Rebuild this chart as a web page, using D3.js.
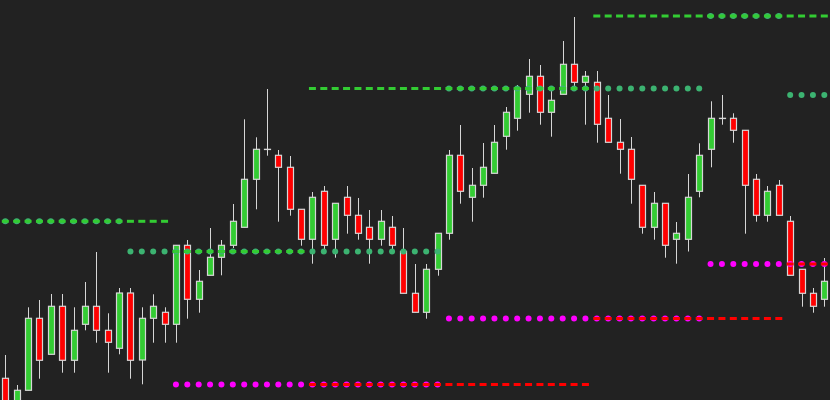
<!DOCTYPE html>
<html>
<head>
<meta charset="utf-8">
<script src="https://cdn.jsdelivr.net/npm/d3@7"></script>
<style>
  html, body { margin: 0; padding: 0; background: #222222; }
  svg { display: block; }
</style>
</head>
<body>
<svg id="chart" width="830" height="400"></svg>
<script>
// ---- DATA ----
const candleIndex = d3.range(1, 74);
const opens  = [121.7, 90, 109.7, 181.7, 145.7, 193.7, 139.7, 175.7, 193.7, 169.7, 151.7, 207, 140, 181.7, 187.7, 175.7, 254.7, 200.7, 224.7, 242.7, 254.7, 272.7, 320.7, 350.7, 344.7, 332.7, 290.7, 260.7, 308.7, 260.7, 302.7, 284.7, 272.7, 260.7, 272.7, 248.7, 206.7, 187.7, 230.7, 266.7, 344.7, 302.7, 314.7, 326.7, 363.7, 381.7, 405.7, 423.7, 387.7, 405.7, 435.7, 417.7, 417.7, 381.7, 357.7, 350.7, 314.7, 272.7, 296.7, 260.7, 260.7, 308.7, 350.7, 381.7, 381.7, 369.7, 320.7, 284.7, 314.7, 278.7, 230.7, 206.7, 200.7];
const highs  = [145, 115, 192.7, 200, 206, 206, 192.7, 218, 248, 186.7, 212, 212, 192.7, 205.7, 192.7, 254.7, 260, 230, 272, 260, 296, 380.7, 362.7, 411, 350, 344, 290.7, 308, 314, 296.7, 314, 302, 290, 290, 284, 272, 236, 236, 266.7, 350, 375, 332, 357, 375, 393, 415, 441, 435, 410, 459, 483, 429, 429, 405, 381, 363, 314.7, 308, 296.7, 278, 326, 356.7, 398.7, 405, 386.7, 369.7, 326, 314, 320, 284, 230.7, 212, 242];
const lows   = [90, 85, 109.7, 121.3, 145.7, 127.3, 127.3, 169.7, 157.3, 127.3, 145.7, 121.3, 115.7, 157.3, 157.3, 157.3, 181.3, 187.3, 224.7, 224.7, 252, 272.7, 290.7, 344.3, 278.3, 284.3, 254.3, 236.3, 248, 242.3, 266.3, 260.3, 236.3, 254.3, 248.3, 206.7, 187.7, 181.3, 224.3, 260.3, 296.3, 278.3, 302.3, 326.7, 350.3, 369.3, 387.3, 375.3, 363.3, 405.7, 412, 375.3, 357.3, 357.7, 326.3, 296.3, 266.3, 260.3, 242.3, 236.3, 248.5, 302.7, 332.7, 375.3, 357.3, 266.3, 278.3, 278.3, 284.7, 224.7, 193.3, 187.3, 193.3];
const closes = [96, 109.7, 181.7, 139.7, 193.7, 139.7, 169.7, 193.7, 169.7, 157.7, 207, 139.7, 181.7, 193.7, 175.7, 254.7, 200.7, 218.7, 242.7, 254.7, 278.7, 320.7, 350.7, 350.5, 332.7, 290.7, 260.7, 302.7, 254.7, 296.7, 284.7, 266.7, 260.7, 278.7, 254.7, 206.7, 187.7, 230.7, 266.7, 344.7, 308.7, 314.7, 332.7, 357.7, 387.7, 411.7, 423.7, 387.7, 399.7, 435.7, 417.7, 423.7, 375.7, 357.7, 350.7, 320.7, 272.7, 296.7, 254.7, 266.7, 302.7, 344.7, 381.7, 381.5, 369.7, 314.7, 284.7, 308.7, 284.7, 224.7, 206.7, 193.7, 218.7];

// Level segments: [first candle, last candle, price]
const resistanceDashes = [[1, 15, 278.7], [16, 27, 248.5], [28, 52, 411.5], [53, 73, 484]];
const resistanceDots   = [[1, 11, 278.7], [12, 39, 248.5], [40, 62, 411.5], [63, 69, 484], [70, 73, 405]];
const supportDots      = [[16, 39, 115.5], [40, 62, 181.5], [63, 73, 236]];
const supportDashes    = [[28, 52, 115.5], [53, 69, 181.5], [70, 73, 236]];

// ---- CHART ----
const W = 830, H = 400;
const svg = d3.select("#chart");
svg.append("rect").attr("width", W).attr("height", H).attr("fill", "#222222");

const x = d3.scaleLinear().domain([1, 73]).range([5.3, 824.3]);
const y = d3.scaleLinear().domain([100, 500]).range([400, 0]);

const candles = candleIndex.map((n, i) => ({ n, o: opens[i], h: highs[i], l: lows[i], c: closes[i] }));
const cx = d => Math.round(x(d.n)) + 0.5;

const g = svg.append("g");
const wickColor = "#d6d6d6";
g.selectAll("line.wick").data(candles).join("line")
  .attr("class", "wick")
  .attr("x1", cx).attr("x2", cx)
  .attr("y1", d => y(d.h)).attr("y2", d => y(d.l))
  .attr("stroke", wickColor).attr("stroke-width", 1);

const bw = 6;
g.selectAll("rect.body").data(candles).join("rect")
  .attr("class", "body")
  .attr("x", d => cx(d) - bw / 2)
  .attr("width", bw)
  .attr("y", d => y(Math.max(d.o, d.c)))
  .attr("height", d => Math.max(0.01, Math.abs(y(d.o) - y(d.c))))
  .attr("fill", d => d.c >= d.o ? "#33cc33" : "#ff0000")
  .attr("stroke", wickColor).attr("stroke-width", 1.2);

// expand segments to per-candle points
const expand = segs => segs.flatMap(([a, b, p]) => d3.range(a, b + 1).map(n => ({ n, p })));

function dots(segs, color) {
  svg.append("g").selectAll("circle").data(expand(segs)).join("circle")
    .attr("cx", d => x(d.n)).attr("cy", d => y(d.p)).attr("r", 3)
    .attr("fill", color);
}
function dashes(segs, color) {
  svg.append("g").selectAll("rect").data(expand(segs)).join("rect")
    .attr("x", d => x(d.n) - 3.5).attr("width", 7)
    .attr("y", d => y(d.p) - 1.5).attr("height", 3)
    .attr("fill", color);
}

dots(resistanceDots, "#3cb371");
dots(supportDots, "#ff00ff");
dashes(resistanceDashes, "#33cc33");
dashes(supportDashes, "#ff0000");
</script>
</body>
</html>
